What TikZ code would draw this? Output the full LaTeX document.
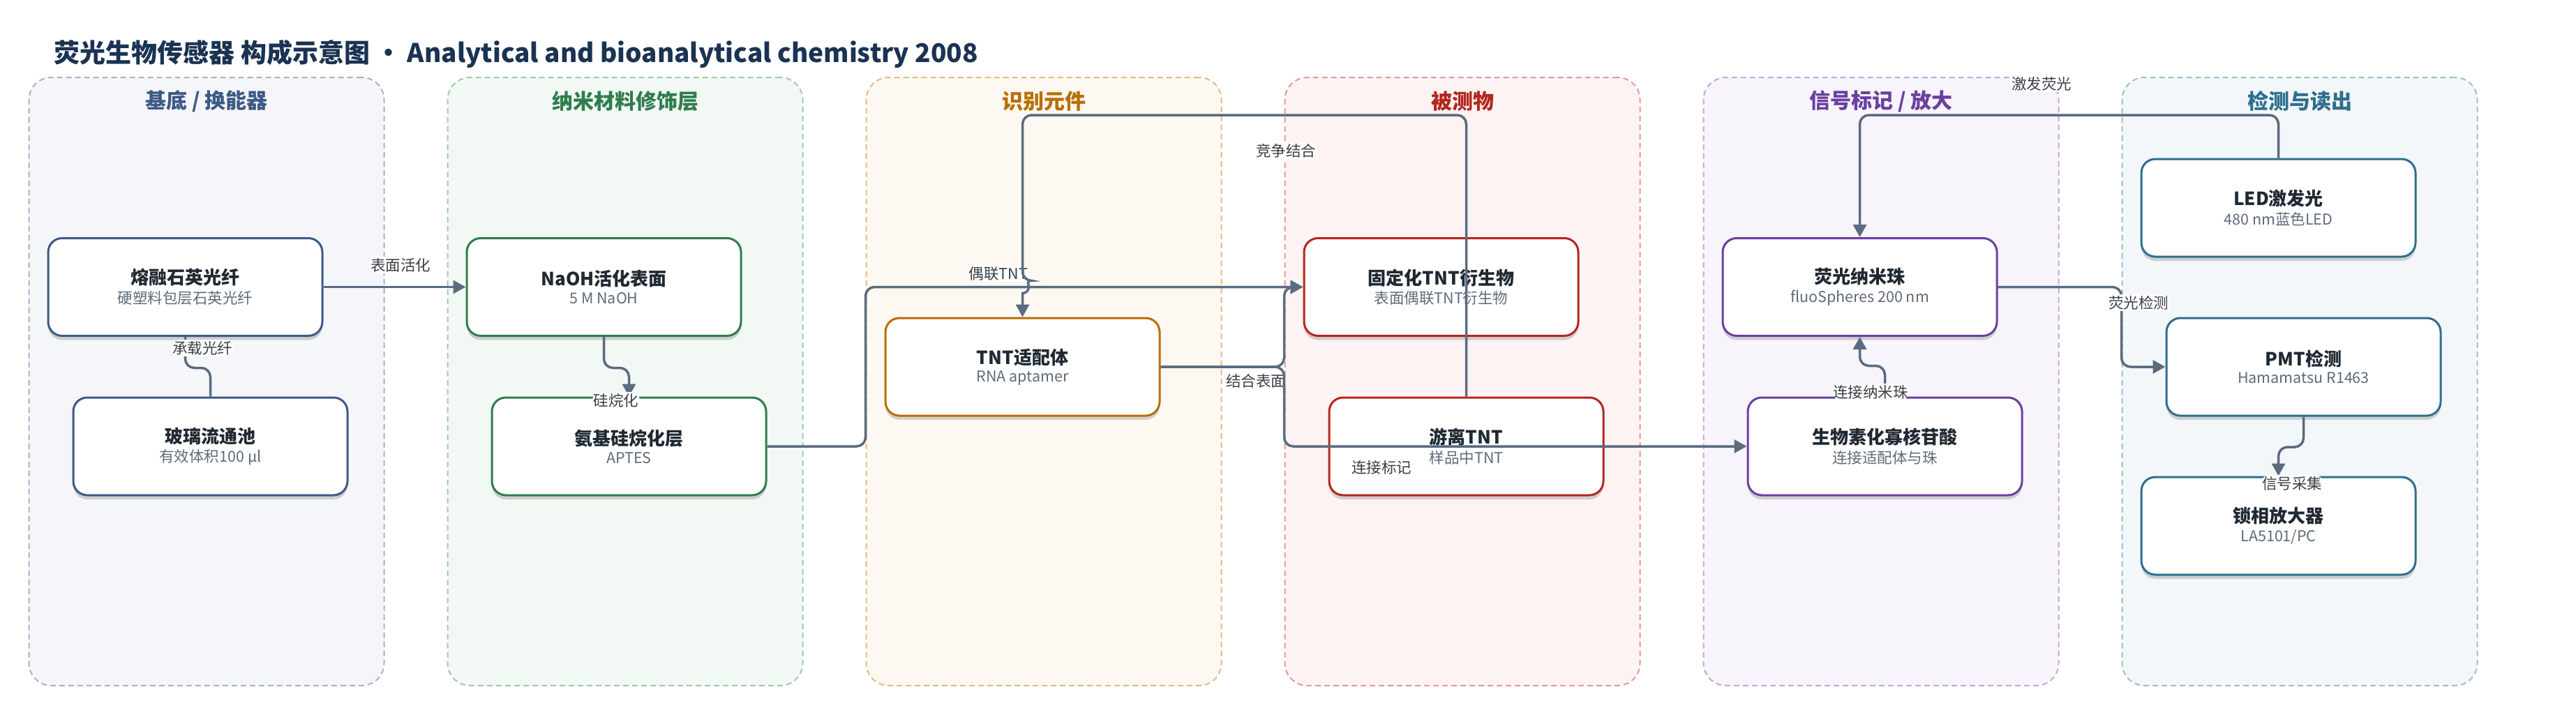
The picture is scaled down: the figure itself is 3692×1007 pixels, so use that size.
\documentclass[tikz,border=0pt]{standalone}
\usepackage{fontspec}
\setmainfont{Noto Sans CJK SC}
\usetikzlibrary{arrows.meta,calc,shadows}

\definecolor{titlec}{HTML}{1B3352}
\definecolor{namec}{HTML}{1F2933}
\definecolor{subc}{HTML}{5F6B7A}
\definecolor{lblc}{HTML}{3A3F45}
\definecolor{linkc}{HTML}{5B6B80}
\definecolor{cSub}{HTML}{3D5A85}
\definecolor{fSub}{HTML}{F5F6FA}
\definecolor{dSub}{HTML}{A9B3C6}
\definecolor{cNano}{HTML}{2F7D4E}
\definecolor{fNano}{HTML}{F2F8F4}
\definecolor{dNano}{HTML}{9FCBAD}
\definecolor{cRec}{HTML}{B86E00}
\definecolor{fRec}{HTML}{FDF8F1}
\definecolor{dRec}{HTML}{E6BB80}
\definecolor{cAna}{HTML}{B3261E}
\definecolor{fAna}{HTML}{FDF3F3}
\definecolor{dAna}{HTML}{E49A9A}
\definecolor{cSig}{HTML}{6B3FA0}
\definecolor{fSig}{HTML}{F7F4FB}
\definecolor{dSig}{HTML}{C3A8DE}
\definecolor{cDet}{HTML}{2E6F8E}
\definecolor{fDet}{HTML}{F3F7F9}
\definecolor{dDet}{HTML}{9CBFCC}

\newcommand{\boxtext}[2]{{\fontsize{26}{30}\selectfont\bfseries\color{namec}#1}\\[6pt]{\fontsize{21.5}{26}\selectfont\color{subc}#2}}

\begin{document}
\begin{tikzpicture}[x=1pt,y=-1pt,
  lane/.style 2 args={draw=#1, fill=#2, dash pattern=on 8pt off 5pt, line width=2pt,
    rounded corners=32pt, minimum width=509pt, minimum height=872pt, inner sep=0pt},
  lanetitle/.style={text=#1, font=\fontsize{30}{34}\selectfont\bfseries},
  blk/.style={draw=#1, fill=white, line width=3pt, rounded corners=20pt,
    minimum width=393pt, minimum height=140pt, align=center, inner sep=0pt,
    drop shadow={shadow xshift=0pt, shadow yshift=-6pt, opacity=0.16, fill=black}},
  link/.style={draw=linkc, line width=3.5pt, rounded corners=13pt,
    -{Triangle[length=18pt,width=19pt]}},
  lbl/.style={fill=white, inner sep=2pt, text=lblc, font=\fontsize{21.5}{24}\selectfont}]
\useasboundingbox (0,0) rectangle (3692,1007);

\node[anchor=west, text=titlec, font=\fontsize{37}{41}\selectfont\bfseries] (title) at (74,77)
  {荧光生物传感器 构成示意图 · Analytical and bioanalytical chemistry 2008};

\node[lane={dSub}{fSub}] (L1) at (296,547) {};
\node[lane={dNano}{fNano}] (L2) at (896,547) {};
\node[lane={dRec}{fRec}] (L3) at (1496,547) {};
\node[lane={dAna}{fAna}] (L4) at (2096,547) {};
\node[lane={dSig}{fSig}] (L5) at (2696,547) {};
\node[lane={dDet}{fDet}] (L6) at (3296,547) {};

\node[lanetitle=cSub] (T1) at (296,145) {基底 / 换能器};
\node[lanetitle=cNano] (T2) at (896,145) {纳米材料修饰层};
\node[lanetitle=cRec] (T3) at (1496,145) {识别元件};
\node[lanetitle=cAna] (T4) at (2096,145) {被测物};
\node[lanetitle=cSig] (T5) at (2696,145) {信号标记 / 放大};
\node[lanetitle=cDet] (T6) at (3296,145) {检测与读出};

\coordinate (ceil) at (0,165);

\node[blk=cSub] (fiber) at (265.5,411.5) {\boxtext{熔融石英光纤}{硬塑料包层石英光纤}};
\node[blk=cSub] (cell) at (301.5,640) {\boxtext{玻璃流通池}{有效体积100 µl}};

\node[blk=cNano] (naoh) at (865.5,411.5) {\boxtext{NaOH活化表面}{5 M NaOH}};
\node[blk=cNano] (aptes) at (901.5,640) {\boxtext{氨基硅烷化层}{APTES}};

\node[blk=cRec] (apt) at (1465.5,526) {\boxtext{TNT适配体}{RNA aptamer}};

\node[blk=cAna] (immo) at (2065.5,411.5) {\boxtext{固定化TNT衍生物}{表面偶联TNT衍生物}};
\node[blk=cAna] (free) at (2101.5,640) {\boxtext{游离TNT}{样品中TNT}};

\node[blk=cSig] (bead) at (2665.5,411.5) {\boxtext{荧光纳米珠}{fluoSpheres 200 nm}};
\node[blk=cSig] (bio) at (2701.5,640) {\boxtext{生物素化寡核苷酸}{连接适配体与珠}};

\node[blk=cDet] (led) at (3265.5,298) {\boxtext{LED激发光}{480 nm蓝色LED}};
\node[blk=cDet] (pmt) at (3301.5,526) {\boxtext{PMT检测}{Hamamatsu R1463}};
\node[blk=cDet] (lia) at (3265.5,754) {\boxtext{锁相放大器}{LA5101/PC}};

\coordinate (hop) at (apt.north |- immo.west);

\draw[link] (fiber.east) -- (naoh.west) node[lbl] at (574,380) {表面活化};
\draw[link,-] (fiber.south) -- ++(0,44.5) -| (cell.north) node[lbl] at (290,499) {承载光纤};
\draw[link] (naoh.south) -- ++(0,44.5) -| (aptes.north) node[lbl] at (883,574) {硅烷化};
\draw[link] (aptes.east) -- (aptes.east -| L3.west) |- (immo.west) node[lbl] at (1431,392) {偶联TNT};
\draw[link] (apt.east) -- (apt.east -| L4.west) |- (immo.west) node[lbl] at (1800,546) {结合表面};
\draw[link] (apt.east) -- (apt.east -| L4.west) |- (bio.west) node[lbl] at (1980,670) {连接标记};
\draw[link] (free.north) |- (ceil -| apt.north) -- ($(hop)+(0,-9)$) [sharp corners] arc (-90:90:9)
  [rounded corners=13pt] -- (apt.north) node[lbl] at (1843,216) {竞争结合};
\draw[link] (bio.north) -- ++(0,-44) -| (bead.south) node[lbl] at (2681,562) {连接纳米珠};
\draw[link] (led.north) |- (ceil -| bead.north) -- (bead.north) node[lbl] at (2926,120) {激发荧光};
\draw[link] (bead.east) -- (bead.east -| L6.west) |- (pmt.west) node[lbl] at (3065,434) {荧光检测};
\draw[link] (pmt.south) -- ++(0,43.5) -| (lia.north) node[lbl] at (3285,693) {信号采集};

\end{tikzpicture}
\end{document}
